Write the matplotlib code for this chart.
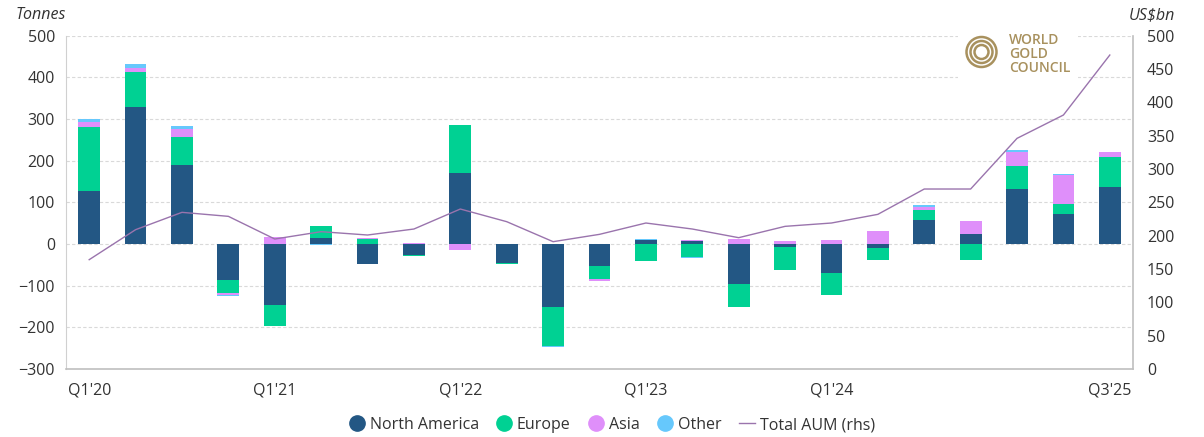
import matplotlib
matplotlib.use("Agg")
import matplotlib.pyplot as plt
from matplotlib.patches import Rectangle, Ellipse
from matplotlib.lines import Line2D
import numpy as np

plt.rcParams['font.family'] = ['Open Sans', 'DejaVu Sans']

quarters = ["Q1'20", "Q2'20", "Q3'20", "Q4'20",
            "Q1'21", "Q2'21", "Q3'21", "Q4'21",
            "Q1'22", "Q2'22", "Q3'22", "Q4'22",
            "Q1'23", "Q2'23", "Q3'23", "Q4'23",
            "Q1'24", "Q2'24", "Q3'24", "Q4'24",
            "Q1'25", "Q2'25", "Q3'25"]

# Quarterly flows by region (tonnes)
north_america = [127, 328, 190, -87, -147, 14, -47, -26, 171, -46, -152, -53,
                 10, 8, -97, -7, -69, -10, 58, 25, 132, 71, 138]
europe = [153, 84, 67, -31, -50, 29, 12, -3, 114, -3, -92, -31,
          -41, -30, -55, -56, -54, -29, 23, -38, 55, 25, 71]
asia = [14, 11, 19, -4, 16, 0, 3, 3, -15, 0, 1, -4,
        0, 2, 13, 7, 10, 31, 7, 30, 35, 69, 12]
other = [6, 8, 7, -3, 0, -2, 0, 0, 0, 1, -2, 0,
         1, -3, 0, 0, 0, 0, 6, 0, 3, 3, 0]

# Total assets under management (US$bn, right axis)
total_aum = [164, 209, 235, 229, 195, 206, 201, 210, 240, 221, 191, 202,
             219, 210, 197, 214, 219, 232, 270, 270, 346, 381, 471]

tick_labels = {0: "Q1'20", 4: "Q1'21", 8: "Q1'22", 12: "Q1'23", 16: "Q1'24", 22: "Q3'25"}

colors = {"North America": "#235784", "Europe": "#00d193",
          "Asia": "#df8ffa", "Other": "#66c8fc"}
line_color = "#9a74ad"
text_color = "#333333"
grid_color = "#d9d9d9"
fs = 11.5

fig = plt.figure(figsize=(12.04, 4.37), dpi=100)
ax = fig.add_axes([66 / 1204, 1 - 369 / 437, (1133 - 66) / 1204, (369 - 35.7) / 437])

x = np.arange(len(quarters))
width = 0.47

series = [("North America", north_america), ("Europe", europe),
          ("Asia", asia), ("Other", other)]
pos_base = np.zeros(len(x))
neg_base = np.zeros(len(x))
for name, vals in series:
    v = np.array(vals, dtype=float)
    base = np.where(v >= 0, pos_base, neg_base)
    ax.bar(x, v, width, bottom=base, color=colors[name], linewidth=0, zorder=3)
    pos_base += np.where(v >= 0, v, 0)
    neg_base += np.where(v < 0, v, 0)

ax.set_xlim(-0.5, len(x) - 0.5)
ax.set_ylim(-300, 500)
ax.set_yticks(np.arange(-300, 501, 100))
ax.yaxis.grid(True, linestyle=(0, (3, 2)), color=grid_color, linewidth=0.8, zorder=0)
ax.set_axisbelow(True)
ax.set_xticks(list(tick_labels.keys()))
ax.set_xticklabels(list(tick_labels.values()))
ax.tick_params(axis='both', length=0, labelsize=fs, colors=text_color)
ax.tick_params(axis='x', pad=10)
ax.tick_params(axis='y', pad=8)
for s in ['top', 'right']:
    ax.spines[s].set_visible(False)
ax.spines['left'].set_color("#d0d0d0")
ax.spines['bottom'].set_color("#bfbfbf")
ax.spines['bottom'].set_linewidth(1.2)

ax2 = ax.twinx()
ax2.plot(x, total_aum, color=line_color, linewidth=1.0, zorder=4)
ax2.set_ylim(0, 500)
ax2.set_yticks(np.arange(0, 501, 50))
ax2.tick_params(axis='y', length=0, labelsize=fs, colors=text_color, pad=10)
for s in ['top', 'left', 'bottom']:
    ax2.spines[s].set_visible(False)
ax2.spines['right'].set_color("#bfbfbf")
ax2.spines['right'].set_linewidth(1.2)

fig.text(41 / 1204, 1 - 15 / 437, "Tonnes", fontsize=fs, style='italic',
         color=text_color, ha='center', va='center')
fig.text(1152 / 1204, 1 - 15 / 437, "US$bn", fontsize=fs, style='italic',
         color=text_color, ha='center', va='center')

# World Gold Council logo
gold = "#a8915e"
logo_bg = Rectangle((958 / 1204, 1 - 80 / 437), 120 / 1204, 50 / 437,
                    transform=fig.transFigure, facecolor='white',
                    edgecolor='none', zorder=5)
fig.patches.append(logo_bg)
cx, cy = 981.5, 52
for r in (15, 11, 7):
    ring = Ellipse((cx / 1204, 1 - cy / 437), 2 * r / 1204, 2 * r / 437,
                   transform=fig.transFigure, fill=False,
                   edgecolor=gold, linewidth=1.8, zorder=6)
    fig.patches.append(ring)
for i, word in enumerate(["WORLD", "GOLD", "COUNCIL"]):
    fig.text(1009 / 1204, 1 - (40.5 + 13.7 * i) / 437, word, fontsize=10,
             fontweight='semibold', color=gold, ha='left', va='center', zorder=6)

handles = [Line2D([], [], marker='o', linestyle='none', markersize=11,
                  markerfacecolor=colors[n], markeredgecolor=colors[n])
           for n, _ in series]
handles.append(Line2D([], [], color=line_color, linewidth=1.0))
labels = [n for n, _ in series] + ["Total AUM (rhs)"]
fig.legend(handles, labels, loc='center', bbox_to_anchor=(612 / 1204, 1 - 425 / 437),
           ncol=5, frameon=False, fontsize=fs, handlelength=1.0, handletextpad=0.3,
           columnspacing=1.1, labelcolor=text_color)

fig.savefig("out.png", dpi=100)
